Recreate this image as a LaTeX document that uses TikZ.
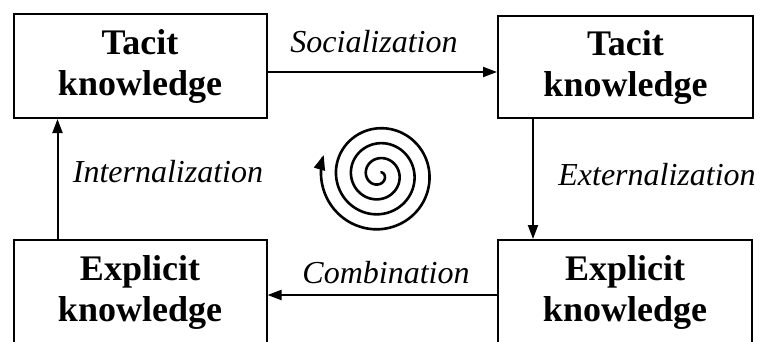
\documentclass[tikz,border=0pt]{standalone}
\usepackage{fontspec}
\setmainfont{Liberation Serif}
\usetikzlibrary{arrows.meta, positioning, calc}

\begin{document}
\begin{tikzpicture}[x=1pt, y=-1pt,
    kbox/.style={draw, line width=2pt, minimum width=253pt, minimum height=104pt,
      align=center, inner sep=0pt, font=\bfseries\fontsize{36}{41}\selectfont},
    flow/.style={-{Triangle[length=14pt,width=10pt]}, line width=2pt},
    mode/.style={inner sep=0pt, font=\itshape\fontsize{32}{38}\selectfont}]
    \useasboundingbox (0,0) rectangle (761,341);
    \clip (0,0) rectangle (761,341);
    % the four kinds of knowledge
    \node[kbox] (tacitA) at (140,66) {Tacit\\knowledge};
    \node[kbox, minimum width=255pt, minimum height=102pt] (tacitB) at (625.5,67) {Tacit\\knowledge};
    \node[kbox, minimum height=105pt] (explicitA) at (140,292.5) {Explicit\\knowledge};
    \node[kbox, minimum width=254pt, minimum height=105pt] (explicitB) at (625,292.5) {Explicit\\knowledge};
    % conversions
    \draw[flow] ([yshift=-6pt]tacitA.east) -- ([yshift=-6pt]tacitA.east -| tacitB.west);
    \draw[flow] ([xshift=36pt]tacitB.south west) -- ([xshift=36pt]tacitB.south west |- explicitB.north);
    \draw[flow] ([yshift=-2.5pt]explicitB.west) -- ([yshift=-2.5pt]explicitB.west -| explicitA.east);
    \draw[flow] ([xshift=45pt]explicitA.north west) -- ([xshift=45pt]explicitA.north west |- tacitA.south);
    \node[mode] (social) at (374,42) {Socialization};
    \node[mode] (external) at (657,175) {Externalization};
    \node[mode] (combine) at (386,273) {Combination};
    \node[mode] (internal) at (168,172) {Internalization};
    % spiral
    \draw[-{Triangle[length=15pt,width=11pt]}, line width=2.6pt]
      plot[domain=0:1340, samples=400, variable=\t, smooth]
      ({379+(3+\t/360*15)*cos(\t-1140)}, {175+(3+\t/360*15)*sin(\t-1140)});
\end{tikzpicture}
\end{document}
